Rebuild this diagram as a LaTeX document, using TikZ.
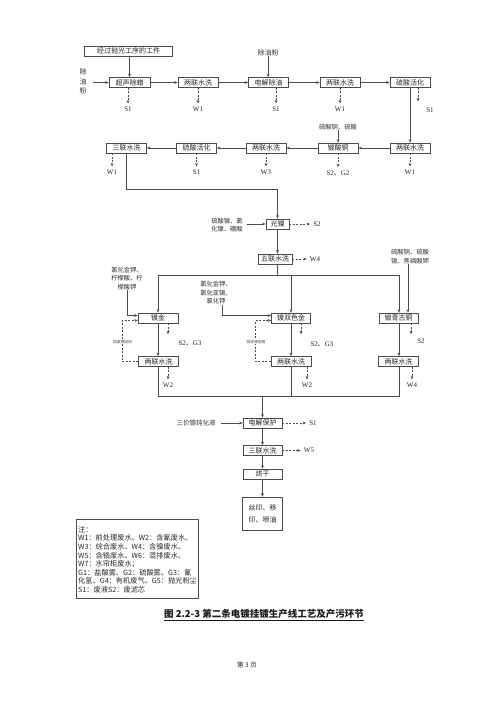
\documentclass[tikz,border=0pt]{standalone}
\usepackage{fontspec}
\setmainfont{Liberation Serif}
\newfontfamily\cjk{Noto Sans CJK SC}
\usetikzlibrary{arrows.meta}
\newcommand\dun{{\cjk 、}}
\begin{document}
\begin{tikzpicture}[x=1pt,y=-1pt,
 line/.style={draw=black!70, line width=0.5pt},
 arr/.style={line, -{Stealth[length=3.5pt,width=2.8pt]}},
 darr/.style={arr, dash pattern=on 2pt off 1.5pt},
 box/.style={draw=black!70, line width=0.6pt, minimum width=40pt, minimum height=10pt, inner sep=0pt, text=black!85, font=\cjk\fontsize{7}{8}\selectfont},
 txt/.style={inner sep=0pt, text=black!80, font=\cjk\fontsize{6.3}{8.5}\selectfont, align=center},
 lab/.style={inner sep=0pt, text=black!85, font=\fontsize{7}{8}\selectfont},
 tiny/.style={inner sep=0.6pt, fill=white, text=black!75, font=\cjk\fontsize{3.8}{4.5}\selectfont},
]
\fill[white] (0,0) rectangle (499,707);
\useasboundingbox (0,0) rectangle (499,707);

% ---- row 1
\node[box, minimum width=88pt] (t0) at (128.5,51) {经过抛光工序的工件};
\node[txt, font=\cjk\fontsize{7}{9.5}\selectfont] (dy) at (83,81.5) {除\\油\\粉};
\node[box, minimum width=41pt] (n1) at (129.5,82.5) {超声除蜡};
\node[box] (n2) at (198,82.5) {两联水洗};
\node[box] (n3) at (268.5,82.5) {电解除油};
\node[box] (n4) at (340,82.5) {两联水洗};
\node[box] (n5) at (410,82.5) {硫酸活化};
\node[txt, font=\cjk\fontsize{7}{8}\selectfont] (dy2) at (268,53) {除油粉};

\draw[arr] (n1.north |- t0.south) -- (n1.north);
\draw[arr] ([xshift=6pt]dy.east |- n1.west) -- (n1.west);
\draw[arr] (n1.east) -- (n2.west);
\draw[arr] (n2.east) -- (n3.west);
\draw[arr] (n3.east) -- (n4.west);
\draw[arr] (n4.east) -- (n5.west);
\draw[arr] (dy2.south) -- (dy2.south |- n3.north);

\node[lab] (o1) at (128,109) {S1};
\node[lab] (o2) at (198,109) {W1};
\node[lab] (o3) at (276,109) {S1};
\node[lab] (o4) at (340,109) {W1};
\node[lab] (o5) at (430,110) {S1};
\draw[darr] (o1.north |- n1.south) -- ([yshift=3pt]o1.north);
\draw[darr] (o2.north |- n2.south) -- ([yshift=3pt]o2.north);
\draw[darr] (o3.north |- n3.south) -- ([yshift=3pt]o3.north);
\draw[darr] (o4.north |- n4.south) -- ([yshift=3pt]o4.north);
\draw[darr] ([xshift=-12pt]o5.north |- n5.south) -- ([xshift=-12pt,yshift=6pt]o5.north);

% ---- row 2
\node[box] (r1) at (410,148) {两联水洗};
\node[box] (r2) at (338,148) {镀酸铜};
\node[box] (r3) at (266,148) {两联水洗};
\node[box] (r4) at (196.5,148) {硫酸活化};
\node[box] (r5) at (126.5,148) {三联水洗};
\node[txt] (in0) at (338,127) {硫酸铜、硫酸};

\draw[arr] (n5.south) -- (r1.north);
\draw[arr] (r1.west) -- (r2.east);
\draw[arr] (r2.west) -- (r3.east);
\draw[arr] (r3.west) -- (r4.east);
\draw[arr] (r4.west) -- (r5.east);
\draw[arr] (in0.south) -- (r2.north);

\node[lab] (q1) at (410,172) {W1};
\node[lab] (q2) at (338,173) {S2\dun G2};
\node[lab] (q3) at (266,172) {W3};
\node[lab] (q4) at (196.5,172) {S1};
\node[lab] (q5) at (112,172) {W1};
\draw[darr] (q1.north |- r1.south) -- ([yshift=3pt]q1.north);
\draw[darr] (q2.north |- r2.south) -- ([yshift=3pt]q2.north);
\draw[darr] (q3.north |- r3.south) -- ([yshift=3pt]q3.north);
\draw[darr] (q4.north |- r4.south) -- ([yshift=3pt]q4.north);
\draw[darr] (q5.north |- r5.south) -- ([yshift=3pt]q5.north);

% ---- nickel
\coordinate (k1) at (0,189);
\node[box, minimum width=23pt] (g1) at (277.5,224) {光镍};
\node[box, minimum width=34pt] (g2) at (275,259) {五联水洗};
\node[txt] (in1) at (227,225) {硫酸镍、氯\\化镍、硼酸};
\draw[arr] (r5.south) -- (r5.south |- k1) -| (g1.north);
\draw[arr] ([xshift=4pt]in1.east |- g1.west) -- (g1.west);
\node[lab] (s2a) at (317,224) {S2};
\draw[darr] (g1.east) -- ([xshift=-3pt]s2a.west);
\draw[arr] (g1.south) -- (g1.south |- g2.north);
\node[lab] (w4a) at (315,259) {W4};
\draw[darr] (g2.east) -- ([xshift=-3pt]w4a.west);

% ---- branches
\coordinate (j1) at (0,275);
\node[box] (b1) at (158,318) {镀金};
\node[box, minimum width=39pt] (b2) at (291,318) {镀双色金};
\node[box, minimum width=39pt] (b3) at (398.5,318) {镀青古铜};
\draw[line] (g1.south |- g2.south) -- (g1.south |- j1);
\draw[arr] (g1.south |- j1) -| (b1.north);
\draw[arr] (g1.south |- j1) -| ([xshift=0.5pt]b3.north);
\draw[arr] (b2.north |- j1) -- (b2.north);

\node[txt] (in2) at (127,278.5) {氯化金钾、\\柠檬酸、柠\\檬酸钾};
\node[txt] (in3) at (216,293) {氯化金钾、\\氯化亚锡、\\氯化钾};
\node[txt] (in4) at (410,256.5) {硫酸铜、硫酸\\锡、焦磷酸钾};
\draw[arr] (in2.south) |- ([yshift=2.5pt]b1.west);
\draw[arr] ([xshift=6pt]in3.south) |- ([yshift=2.5pt]b2.west);
\draw[arr] ([xshift=-2pt]in4.south) -- ([xshift=-2pt]in4.south |- b3.north);

\node[lab] (sg1) at (190,343) {S2\dun G3};
\node[lab] (sg2) at (322,344) {S2\dun G3};
\node[lab] (sg3) at (421,341) {S2};
\draw[darr] ([xshift=10pt]b1.south) -- ++(0,11);
\draw[darr] ([xshift=10pt]b2.south) -- ++(0,11);
\draw[darr] ([xshift=12.5pt]b3.south) -- ++(0,11);

\node[box] (c1) at (158.5,361.5) {两联水洗};
\node[box] (c2) at (291,361.5) {两联水洗};
\node[box] (c3) at (398.5,361.5) {两联水洗};
\draw[arr] (b1.south) -- (b1.south |- c1.north);
\draw[arr] (b2.south) -- (c2.north);
\draw[arr] ([xshift=0.5pt]b3.south) -- ([xshift=0.5pt]b3.south |- c3.north);

\node[lab] (wa) at (168,385) {W2};
\node[lab] (wb) at (307,385) {W2};
\node[lab] (wc) at (412,385) {W4};
\draw[darr] (wa.north |- c1.south) -- ([yshift=3pt]wa.north);
\draw[darr] (wb.north |- c2.south) -- ([yshift=3pt]wb.north);
\draw[darr] (wc.north |- c3.south) -- ([yshift=3pt]wc.north);

% recycle loops
\draw[darr] (c1.west) -- ++(-16,0) |- ([yshift=-2.5pt]b1.west);
\draw[darr] (c2.west) -- ++(-15,0) |- ([yshift=-2.5pt]b2.west);
\node[tiny] (rc1) at (122.5,342) {回收液回用};
\node[tiny] (rc2) at (256,342) {回收液回用};

% ---- join
\coordinate (j2) at (0,396);
\node[box, minimum width=39pt] (p1) at (262.5,423) {电解保护};
\draw[line] (c1.south) -- (c1.south |- j2) -- ([xshift=0.5pt]c3.south |- j2) -- ([xshift=0.5pt]c3.south);
\draw[line] (c2.south) -- (c2.south |- j2);
\draw[arr, line width=1.1pt] (p1.north |- j2) -- (p1.north);

\node[txt, font=\cjk\fontsize{6.5}{8}\selectfont] (in5) at (196,423) {三价铬钝化液};
\draw[arr] ([xshift=5pt]in5.east) -- (p1.west);
\node[lab] (s1d) at (313,423) {S1};
\draw[darr] (p1.east) -- ([xshift=-3pt]s1d.west);

\node[box, minimum width=39pt] (p2) at (262.5,450.5) {三联水洗};
\node[lab] (w5) at (309,450.5) {W5};
\draw[darr] (p2.east) -- ([xshift=-3pt]w5.west);
\node[box, minimum width=39pt] (p3) at (262.5,474) {烘干};
\node[box, minimum width=40pt, minimum height=33pt, align=center, font=\cjk\fontsize{7}{12}\selectfont] (p4) at (262.5,513.5) {丝印、移\\印、喷油};
\draw[arr] (p1.south) -- (p2.north);
\draw[arr] (p2.south) -- (p3.north);
\draw[arr] (p3.south) -- (p4.north);

% ---- legend
\node[draw=black!70, line width=0.6pt, minimum width=122pt, minimum height=79pt, anchor=north west, inner sep=0pt] (lg) at (76,519) {};
\node[anchor=north west, align=left, inner sep=0pt, text=black!85, font=\cjk\fontsize{7.2}{8.6}\selectfont] (lgt) at ([xshift=2pt,yshift=-7pt]lg.north west)
{注：\\
W1：前处理废水、W2：含氰废水、\\
W3：综合废水、W4：含镍废水、\\
W5：含铬废水、W6：混排废水、\\
W7：水帘柜废水；\\
G1：盐酸雾、G2：硫酸雾、G3：氰\\
化氢、G4：有机废气、G5：抛光粉尘\\
S1：废液S2：废滤芯};

% ---- caption
\node[inner sep=0pt, text=black!90, font=\cjk\bfseries\fontsize{9.5}{11}\selectfont] (cap) at (264,615) {\underline{图 2.2-3 第二条电镀挂镀生产线工艺及产污环节}};
\node[inner sep=0pt, text=black!85, font=\cjk\fontsize{6.5}{8}\selectfont] (pg) at (247,665) {第 3 页};
\end{tikzpicture}
\end{document}
